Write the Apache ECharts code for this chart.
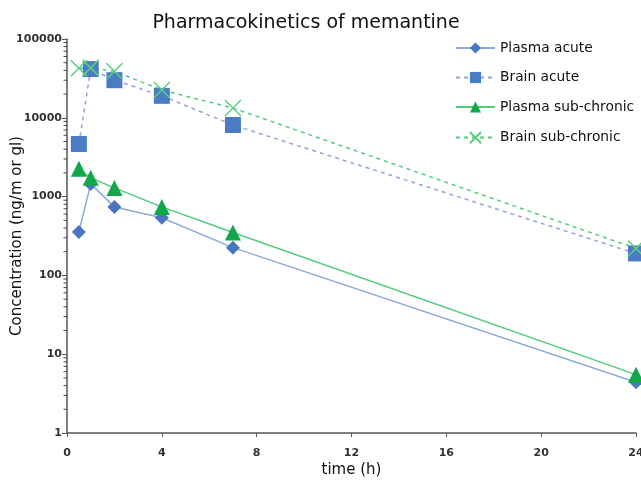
<!DOCTYPE html>
<html><head><meta charset="utf-8">
<script src="https://cdn.jsdelivr.net/npm/echarts@6/dist/echarts.min.js"></script>
<style>html,body{margin:0;padding:0;background:#fff}#c{width:641px;height:480px}</style>
</head><body><div id="c"></div>
<script>
const times = [0.5, 1, 2, 4, 7, 24];
const plasmaAcute = [355, 1450, 740, 540, 225, 4.4];
const brainAcute = [4650, 41500, 30000, 19000, 8100, 190];
const plasmaSub = [2250, 1730, 1290, 740, 350, 5.5];
const brainSub = [42500, 43000, 39000, 22500, 13300, 220];
const seriesNames = ['Plasma acute', 'Brain acute', 'Plasma sub-chronic', 'Brain sub-chronic'];
const xTicks = [0, 4, 8, 12, 16, 20, 24];
const yDecades = [1, 10, 100, 1000, 10000];
const minorSteps = [2, 3, 4, 5, 6, 7, 8, 9];

const pair = v => times.map((t, i) => [t, v[i]]);
const minorTicks = [];
yDecades.forEach(d => minorSteps.forEach(m => minorTicks.push([xTicks[0], d * m])));

const font = 'DejaVu Sans, Verdana, sans-serif';
const chart = echarts.init(document.getElementById('c'));
chart.setOption({
  animation: false,
  title: { text: 'Pharmacokinetics of memantine', left: 301, top: 9, textAlign: 'center',
    textStyle: { fontFamily: font, fontSize: 19, fontWeight: 'normal', color: '#111' } },
  legend: { orient: 'vertical', left: 450, top: 36, itemGap: 15.5, itemWidth: 39, itemHeight: 14,
    textStyle: { fontFamily: font, fontSize: 13.8, color: '#111' }, data: seriesNames },
  grid: { left: 67, right: 5, top: 39, bottom: 47, outerBoundsMode: 'none', containLabel: false },
  xAxis: { type: 'value', min: xTicks[0], max: xTicks[xTicks.length - 1], interval: 4,
    name: 'time (h)', nameLocation: 'middle', nameGap: 30, nameMoveOverlap: false,
    nameTextStyle: { fontFamily: font, fontSize: 15, color: '#111' },
    axisLine: { lineStyle: { color: '#555', width: 1.5 } },
    axisTick: { inside: false, length: 4, lineStyle: { color: '#555' } },
    axisLabel: { fontFamily: font, fontSize: 11, color: '#333', fontWeight: 'bold', margin: 15 },
    splitLine: { show: false } },
  yAxis: { type: 'log', logBase: 10, min: 1, max: 100000,
    name: 'Concentration (ng/m or gl)', nameLocation: 'middle', nameGap: 42, nameMoveOverlap: false,
    nameTextStyle: { fontFamily: font, fontSize: 15, color: '#111' },
    axisLine: { show: true, lineStyle: { color: '#555', width: 1.5 } },
    axisTick: { show: true, inside: false, length: 5, lineStyle: { color: '#555' } },
    axisLabel: { fontFamily: font, fontSize: 11, color: '#333', fontWeight: 'bold', margin: 5,
      formatter: v => String(v) },
    splitLine: { show: false } },
  series: [
    { name: 'minor', type: 'custom', data: minorTicks, silent: true, clip: false, z: 5,
      encode: { x: 0, y: 1 },
      renderItem: (params, api) => {
        const p = api.coord([api.value(0), api.value(1)]);
        return { type: 'line', shape: { x1: p[0] - 3.5, y1: p[1], x2: p[0], y2: p[1] },
          style: { stroke: '#444', lineWidth: 1 } };
      } },
    { name: seriesNames[0], type: 'line', data: pair(plasmaAcute), symbol: 'diamond', symbolSize: 14,
      itemStyle: { color: '#4a76c0' }, lineStyle: { color: '#8eaadc', width: 1.5 } },
    { name: seriesNames[1], type: 'line', data: pair(brainAcute), symbol: 'rect', symbolSize: 16,
      itemStyle: { color: '#4a7bc4' }, lineStyle: { color: '#8aa6dc', width: 1.5, type: [4, 4] } },
    { name: seriesNames[2], type: 'line', data: pair(plasmaSub), symbol: 'triangle', symbolSize: 16,
      itemStyle: { color: '#12a84a' }, lineStyle: { color: '#52cc7c', width: 1.5 } },
    { name: seriesNames[3], type: 'line', data: pair(brainSub),
      symbol: 'path://M0,0L10,10M10,0L0,10', symbolSize: 16,
      itemStyle: { color: 'none', borderColor: '#5ccf7f', borderWidth: 1.5 },
      lineStyle: { color: '#52cc7c', width: 1.5, type: [4, 4] } }
  ]
});
</script></body></html>
